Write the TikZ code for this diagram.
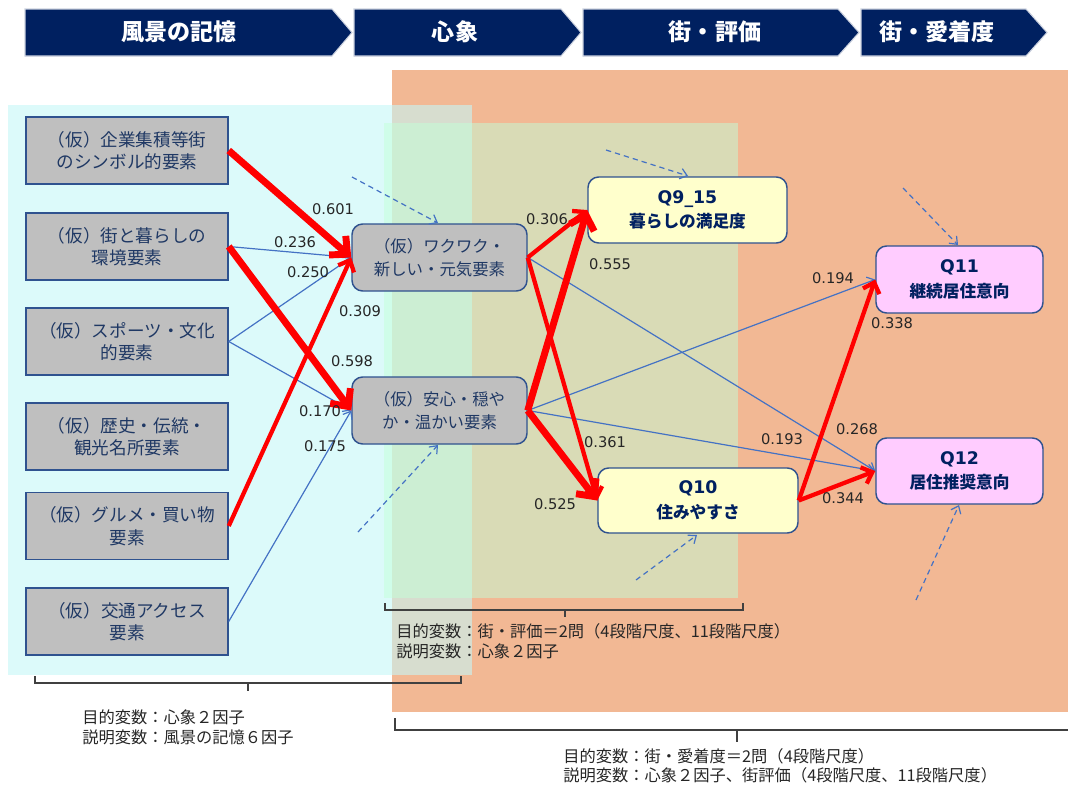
\documentclass[tikz,border=0pt]{standalone}
\usepackage{fontspec}
\setmainfont{Noto Sans CJK JP}
\newfontfamily\numfont{DejaVu Sans}
\newcommand\qidfont{\numfont\fontsize{13}{18.5}\selectfont\bfseries}
\usetikzlibrary{arrows.meta}
\definecolor{navy}{HTML}{002060}
\definecolor{bgorange}{RGB}{242,184,148}
\definecolor{bgcyan}{RGB}{197,247,247}
\definecolor{bggreen}{RGB}{194,255,216}
\definecolor{boxgray}{HTML}{BFBFBF}
\definecolor{boxborder}{HTML}{2F528F}
\definecolor{boxtext}{HTML}{1F3864}
\definecolor{qyellow}{HTML}{FFFFCC}
\definecolor{qpink}{HTML}{FFCCFF}
\definecolor{lblue}{HTML}{4472C4}
\definecolor{numgray}{HTML}{262626}
\definecolor{brk}{HTML}{404040}
\begin{document}
\begin{tikzpicture}[x=0.75pt,y=-0.75pt,
  hdr/.style={fill=navy,draw=white!80!navy,line width=0.8pt},
  hdrtext/.style={text=white,font=\fontsize{17.3}{20}\selectfont\bfseries},
  lbox/.style={draw=boxborder,fill=boxgray,line width=1.1pt,minimum width=151.5pt,minimum height=50.25pt,inner sep=0pt,align=center,text=boxtext,font=\fontsize{13.2}{16.8}\selectfont},
  mbox/.style={draw=boxborder,fill=boxgray,line width=1.1pt,rounded corners=8pt,minimum width=131.25pt,minimum height=50.25pt,inner sep=0pt,align=center,text=boxtext,font=\fontsize{12.3}{17}\selectfont},
  qbox/.style={draw=boxborder,line width=1.1pt,rounded corners=8pt,minimum height=49.5pt,inner sep=0pt,align=center,text=navy,font=\fontsize{12.5}{18.5}\selectfont\bfseries},
  num/.style={font=\numfont\fontsize{11}{13}\selectfont,text=numgray,inner sep=0pt},
  thick red/.style={draw=red,line width=5.2pt,-{Straight Barb[length=10pt,width=19pt]}},
  mid red/.style={draw=red,line width=3.2pt,-{Straight Barb[length=7pt,width=13pt]}},
  thin blue/.style={draw=lblue,line width=0.9pt,-{Straight Barb[length=5pt,width=8pt]}},
  err/.style={draw=lblue,line width=0.9pt,dash pattern=on 4pt off 3pt,-{Straight Barb[length=5pt,width=8pt]}},
  brack/.style={draw=brk,line width=0.8pt},
  note/.style={anchor=west,inner sep=0pt,text=numgray,font=\fontsize{12.2}{14}\selectfont}
]
\useasboundingbox (0,0) rectangle (1068,785);

% backgrounds
\fill[bgorange] (392,70) rectangle (1068,712);
\fill[bgcyan,opacity=0.6] (8,105) rectangle (472,675);
\fill[bggreen,opacity=0.5] (384,123) rectangle (738,598);

% header chevrons
\draw[hdr] (25,9) -- (332,9) -- (352,32.5) -- (332,56) -- (25,56) -- cycle;
\draw[hdr] (354,9) -- (561,9) -- (581,32.5) -- (561,56) -- (354,56) -- cycle;
\draw[hdr] (583,9) -- (838,9) -- (859,32.5) -- (838,56) -- (583,56) -- cycle;
\draw[hdr] (861,9) -- (1026,9) -- (1047,32.5) -- (1026,56) -- (861,56) -- cycle;
\node[hdrtext] (h1) at (179,32) {風景の記憶};
\node[hdrtext] (h2) at (455,32) {心象};
\node[hdrtext] (h3) at (715,32) {街・評価};
\node[hdrtext] (h4) at (937,32) {街・愛着度};

% left boxes
\node[lbox] (L1) at (127,150.5) {（仮）企業集積等街\\のシンボル的要素};
\node[lbox] (L2) at (127,246.5) {（仮）街と暮らしの\\環境要素};
\node[lbox] (L3) at (127,341.5) {（仮）スポーツ・文化\\的要素};
\node[lbox] (L4) at (127,436.5) {（仮）歴史・伝統・\\観光名所要素};
\node[lbox] (L5) at (127,526) {（仮）グルメ・買い物\\要素};
\node[lbox] (L6) at (127,621.5) {（仮）交通アクセス\\要素};

% middle boxes
\node[mbox] (A) at (439.5,257.5) {（仮）ワクワク・\\新しい・元気要素};
\node[mbox] (B) at (439.5,410.5) {（仮）安心・穏や\\か・温かい要素};

% outcome boxes
\node[qbox,fill=qyellow,minimum width=149.25pt] (Q9) at (687.5,210) {{\qidfont Q9\_15}\\暮らしの満足度};
\node[qbox,fill=qyellow,minimum width=150pt,minimum height=48.75pt] (Q10) at (698,500.5) {{\qidfont Q10}\\住みやすさ};
\node[qbox,fill=qpink,minimum width=125.25pt,minimum height=50.25pt] (Q11) at (959.5,279.5) {{\qidfont Q11}\\継続居住意向};
\node[qbox,fill=qpink,minimum width=125.25pt] (Q12) at (959.5,471) {{\qidfont Q12}\\居住推奨意向};

% error arrows
\coordinate (eA) at (352,177);
\coordinate (eB) at (358,532);
\coordinate (e9) at (606,150);
\coordinate (e10) at (636,580);
\coordinate (e11) at (903,188);
\coordinate (e12) at (916,600);
\draw[err] (eA) -- (438,223);
\draw[err] (eB) -- (438,445);
\draw[err] (e9) -- (688,176);
\draw[err] (e10) -- (697,535);
\draw[err] (e11) -- (958,245);
\draw[err] (e12) -- (959,505);

% paths: memory -> image
\draw[thin blue] (L2.east) -- (A.west);
\draw[thin blue] (L3.east) -- (A.west);
\draw[thin blue] (L3.east) -- (B.west);
\draw[thin blue] (L6.east) -- (B.west);
\draw[mid red] (L5.east) -- (A.west);
\draw[thick red] (L1.east) -- (A.west);
\draw[thick red] (L2.east) -- (B.west);

% image -> evaluation / attachment
\draw[thin blue] (A.east) -- (Q12.west);
\draw[thin blue] (B.east) -- (Q11.west);
\draw[thin blue] (B.east) -- (Q12.west);
\draw[mid red] (A.east) -- (Q9.west);
\draw[mid red] (A.east) -- (Q10.west);
\draw[thick red] (B.east) -- (Q9.west);
\draw[thick red] (B.east) -- (Q10.west);
\draw[mid red] (Q10.east) -- (Q11.west);
\draw[mid red] (Q10.east) -- (Q12.west);

% coefficients
\node[num] (n601) at (333,209) {0.601};
\node[num] (n236) at (295,242) {0.236};
\node[num] (n250) at (308,272) {0.250};
\node[num] (n309) at (360,311) {0.309};
\node[num] (n598) at (352,361) {0.598};
\node[num] (n170) at (320,411) {0.170};
\node[num] (n175) at (325,446) {0.175};
\node[num] (n306) at (547,219) {0.306};
\node[num] (n555) at (610,264) {0.555};
\node[num] (n361) at (605,442) {0.361};
\node[num] (n525) at (555,504) {0.525};
\node[num] (n193) at (782,439) {0.193};
\node[num] (n194) at (833,278) {0.194};
\node[num] (n338) at (892,323) {0.338};
\node[num] (n268) at (857,429) {0.268};
\node[num] (n344) at (843,498) {0.344};

% brackets
\draw[brack] (35,676) -- (35,683) -- (461,683) -- (461,676);
\draw[brack] (248,683) -- (248,691);
\draw[brack] (385,603) -- (385,610) -- (743,610) -- (743,603);
\draw[brack] (565,610) -- (565,617);
\draw[brack] (395,718) -- (395,730) -- (1068,730);
\draw[brack] (737,730) -- (737,742);

% notes
\node[note] (t1) at (396,631) {目的変数：街・評価＝2問（4段階尺度、11段階尺度）};
\node[note] (t2) at (396,651) {説明変数：心象２因子};
\node[note] (t3) at (82,717) {目的変数：心象２因子};
\node[note] (t4) at (82,737) {説明変数：風景の記憶６因子};
\node[note] (t5) at (563,756) {目的変数：街・愛着度＝2問（4段階尺度）};
\node[note] (t6) at (563,775) {説明変数：心象２因子、街評価（4段階尺度、11段階尺度）};
\end{tikzpicture}
\end{document}
